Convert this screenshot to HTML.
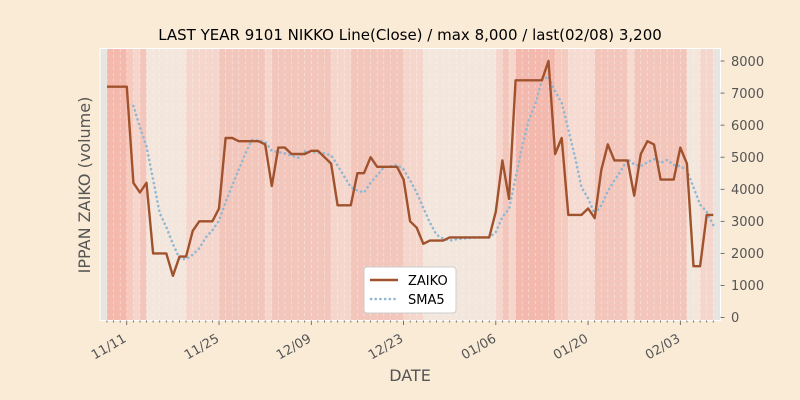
<!DOCTYPE html>
<html><head><meta charset="utf-8"><style>
html,body{margin:0;padding:0;background:#faebd7;}
svg{display:block;font-family:"DejaVu Sans","Liberation Sans",sans-serif;}
</style></head><body>
<svg id="s" width="800" height="400" viewBox="0 0 800 400" xmlns="http://www.w3.org/2000/svg">
<rect width="800" height="400" fill="#faebd7"/>
<g id="bands"></g>
<g id="grid"></g>
<rect x="100" y="48.5" width="620.5" height="272" fill="none" stroke="#ffffff" stroke-width="1"/>
<path id="sma" fill="none" stroke="#8fb8d4" stroke-width="2.6" stroke-dasharray="0.1,4.6" stroke-linecap="round"/>
<path id="zaiko" fill="none" stroke="#a0522d" stroke-width="2.4" stroke-linejoin="round"/>
<g id="ticks" stroke="#555" stroke-width="0.8"></g>
<text x="410" y="40" font-size="15" text-anchor="middle" fill="#000">LAST YEAR 9101 NIKKO Line(Close) / max 8,000 / last(02/08) 3,200</text>
<g font-size="13" fill="#555" text-anchor="start">
<text x="731" y="66">8000</text>
<text x="731" y="98">7000</text>
<text x="731" y="130">6000</text>
<text x="731" y="162">5000</text>
<text x="731" y="194">4000</text>
<text x="731" y="226">3000</text>
<text x="731" y="258">2000</text>
<text x="731" y="290">1000</text>
<text x="731" y="322">0</text>
</g>
<g font-size="13" fill="#555" text-anchor="end">
<text transform="translate(127,341) rotate(-30)">11/11</text>
<text transform="translate(220,341) rotate(-30)">11/25</text>
<text transform="translate(312,341) rotate(-30)">12/09</text>
<text transform="translate(404,341) rotate(-30)">12/23</text>
<text transform="translate(497,341) rotate(-30)">01/06</text>
<text transform="translate(589,341) rotate(-30)">01/20</text>
<text transform="translate(681,341) rotate(-30)">02/03</text>
</g>
<text x="410" y="381" font-size="16" fill="#555" text-anchor="middle">DATE</text>
<text transform="translate(90,185) rotate(-90)" font-size="16" fill="#555" text-anchor="middle">IPPAN ZAIKO (volume)</text>
<g>
<rect x="364" y="267" width="92" height="46" rx="3" fill="#ffffff" stroke="#cccccc" stroke-width="1"/>
<line x1="370" y1="280" x2="398" y2="280" stroke="#a0522d" stroke-width="2.4"/>
<line x1="371" y1="299" x2="398" y2="299" stroke="#8fb8d4" stroke-width="2.6" stroke-dasharray="0.1,4.6" stroke-linecap="round"/>
<text x="408" y="285" font-size="13" fill="#000">ZAIKO</text>
<text x="408" y="304" font-size="13" fill="#000">SMA5</text>
</g>
</svg>
<script>
var v=[7200,7200,7200,7200,4200,3900,4200,2000,2000,2000,1300,1900,1900,2700,3000,3000,3000,3400,5600,5600,5500,5500,5500,5500,5400,4100,5300,5300,5100,5100,5100,5200,5200,5000,4800,3500,3500,3500,4500,4500,5000,4700,4700,4700,4700,4300,3000,2800,2300,2400,2400,2400,2500,2500,2500,2500,2500,2500,2500,3300,4900,3700,7400,7400,7400,7400,7400,8000,5100,5600,3200,3200,3200,3400,3100,4600,5400,4900,4900,4900,3800,5100,5500,5400,4300,4300,4300,5300,4800,1600,1600,3200,3200];
var X=function(i){return 107+6.59*i;},Y=function(val){return 317.5-val*0.03206;};
var c={a:"#f4b8ac",b:"#f5cbbf",l:"#f5dbd2",m:"#f3c6bc",e:"#f3e6dc",s:"#f4b9ae",g:"#e8e4e0",p:"#f5d6cc"};
var cols="aaabpmeeeeeepppppmmmmmmmpmmmmmmmmmpppmmmmmmmmpppeeeeeeeeeeepmpssssssbbllllmmmmmlmmmmmmmmeeppg";
var ns="http://www.w3.org/2000/svg",B=document.getElementById("bands"),G=document.getElementById("grid"),T=document.getElementById("ticks");
function el(p,t,a){var e=document.createElementNS(ns,t);for(var k in a)e.setAttribute(k,a[k]);p.appendChild(e);return e;}
el(B,"rect",{x:100,y:48.5,width:7,height:272,fill:c.g});
for(var i=0;i<93;i++){el(B,"rect",{x:X(i),y:48.5,width:6.7,height:272,fill:c[cols[i]]||c.l});}
el(B,"rect",{x:713,y:48.5,width:7.5,height:272,fill:c.g});
for(var i=0;i<93;i++){el(G,"line",{x1:X(i),y1:49,x2:X(i),y2:320,stroke:"#ffffff","stroke-opacity":0.5,"stroke-width":0.7,"stroke-dasharray":"3,3"});
var maj=((i-3)%14===0);el(T,"line",{x1:X(i),y1:320.5,x2:X(i),y2:maj?325:322.5});}
for(var k=0;k<=8;k++){var y=Y(k*1000);el(T,"line",{x1:720.5,y1:y,x2:724.5,y2:y});}
var d="";for(var i=0;i<93;i++)d+=(i?"L":"M")+X(i).toFixed(1)+","+Y(v[i]).toFixed(1);
document.getElementById("zaiko").setAttribute("d",d);
var s="";for(var i=4;i<93;i++){var m=(v[i]+v[i-1]+v[i-2]+v[i-3]+v[i-4])/5;s+=(i>4?"L":"M")+X(i).toFixed(1)+","+Y(m).toFixed(1);}
document.getElementById("sma").setAttribute("d",s);
</script>
</body></html>
